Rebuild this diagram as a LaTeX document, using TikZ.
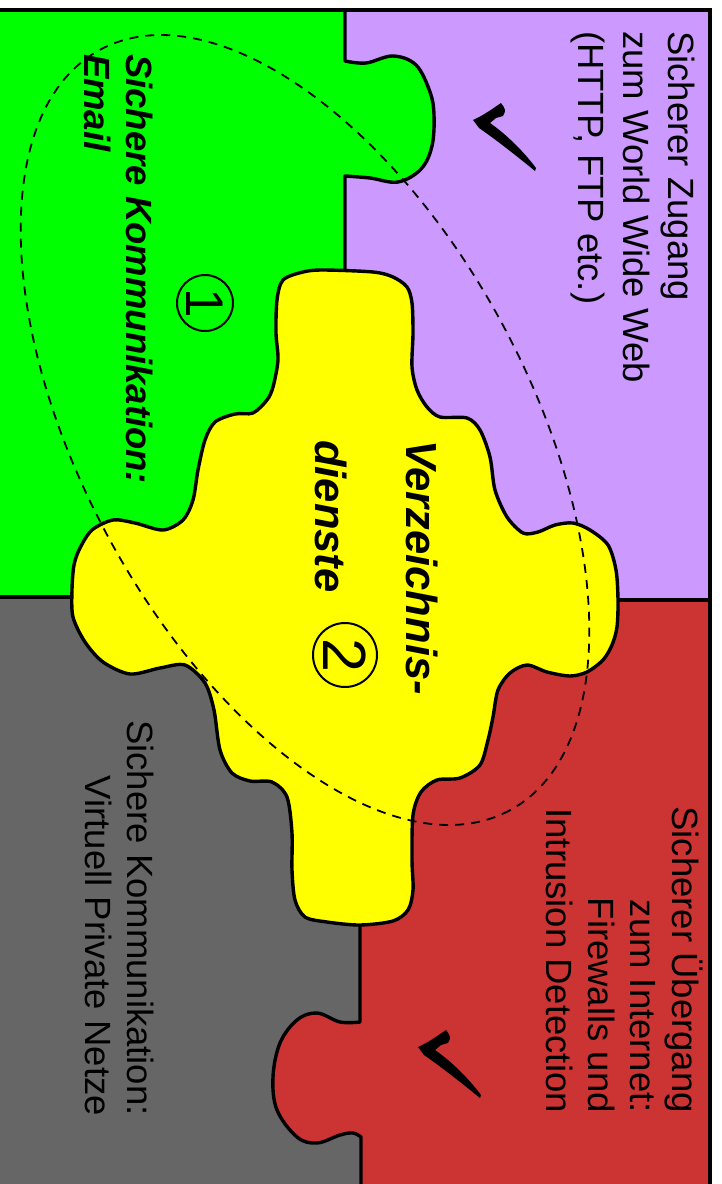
\documentclass[tikz,border=0pt]{standalone}
\usepackage{fontspec}
\setmainfont{Liberation Sans}
\usepackage{xcolor}

\definecolor{gruen}{RGB}{0,255,0}
\definecolor{lila}{RGB}{204,153,255}
\definecolor{gelb}{RGB}{255,255,0}
\definecolor{rot}{RGB}{204,51,51}
\definecolor{grau}{RGB}{102,102,102}

\tikzset{
  teil/.style={draw=black, line width=3.4pt, line join=round},
  schrift/.style={rotate=-90, inner sep=0pt, font=\fontsize{36.5}{42}\selectfont},
  fett/.style={rotate=-90, inner sep=0pt, font=\fontsize{36.5}{42}\selectfont\bfseries\itshape},
  nummer/.style={circle, draw, line width=2pt, inner sep=0pt, rotate=-90},
  haken/.pic={
    \fill (0,0) .. controls (7,-3) and (15,-8) .. (25,-15) -- (28,-17)
      .. controls (33,-10) .. (30,-4) -- (23,-2) -- (17,3)
      .. controls (30,12) and (48,28) .. (63,48) -- (62,51)
      .. controls (45,37) and (22,19) .. (6,8) -- cycle;
  }
}

\begin{document}
\begin{tikzpicture}[x=1pt, y=-1pt]
\useasboundingbox (0,0) rectangle (722,1184);
\clip (0,0) rectangle (722,1184);

\fill[gruen] (0,10) rectangle (345,597);
\fill[lila] (345,10) rectangle (710,600);
\fill[grau] (0,597) rectangle (360,1184);
\fill[rot] (360,600) rectangle (710,1184);

\fill[gruen] plot[smooth, tension=0.6] coordinates {(345,61) (366,63) (393,56) (416,65) (430,92) (434,115) (432,146) (421,169) (398,182) (370,178) (345,176)} -- cycle;
\fill[rot] plot[smooth, tension=0.6] coordinates {(360,1022) (340,1022) (317,1013) (297,1020) (280,1043) (273,1077) (277,1110) (297,1137) (317,1143) (340,1135) (353,1133) (361,1137)} -- cycle;

\draw[teil] (345,10) -- plot[smooth, tension=0.6] coordinates {(345,61) (366,63) (393,56) (416,65) (430,92) (434,115) (432,146) (421,169) (398,182) (370,178) (345,176)} -- (345,275);
\draw[teil] (360,920) -- plot[smooth, tension=0.6] coordinates {(360,1022) (340,1022) (317,1013) (297,1020) (280,1043) (273,1077) (277,1110) (297,1137) (317,1143) (340,1135) (353,1133) (361,1137)} -- (361,1184);
\draw[teil] (0,597) -- (80,597);
\draw[teil] (610,600) -- (710,600);

\draw[teil, fill=gelb] plot[smooth cycle, tension=0.5] coordinates {
  (303,272) (323,270) (373,272) (393,277) (407,287) (412,303) (413,333) (412,367)
  (417,390) (427,407) (440,417) (467,418) (480,430) (490,457) (495,490) (507,517)
  (523,533) (538,532) (555,525) (573,523) (590,530) (608,545) (616,570) (618,600)
  (617,627) (612,645) (603,660) (587,672) (570,676) (547,672) (527,665) (510,673)
  (498,690) (493,717) (488,740) (480,765) (460,778) (437,780) (421,792) (413,815)
  (412,860) (413,890) (408,910) (393,921) (360,925) (327,922) (305,917) (295,900)
  (292,870) (292,833) (287,797) (272,782) (250,781) (232,773) (220,750) (214,710)
  (205,683) (185,665) (160,668) (130,674) (103,662) (85,642) (73,617) (72,590)
  (74,565) (80,548) (92,530) (113,520) (135,523) (163,530) (183,520) (193,500)
  (198,470) (205,440) (215,422) (235,414) (253,413) (267,400) (273,387) (278,360)
  (276,333) (277,300) (283,280)};

\draw[line width=1.8pt, dash pattern=on 9pt off 7pt, rotate around={-61.7:(305,430)}] (305,430) ellipse [x radius=432, y radius=224];

\node[schrift, font=\fontsize{36.5}{45}\selectfont, align=left, anchor=north west] (www) at (695,31) {Sicherer Zugang\\zum World Wide Web\\(HTTP, FTP etc.)};
\node[schrift, align=right, anchor=north east] (firewall) at (703,1113) {Sicherer Übergang\\zum Internet:\\Firewalls und\\Intrusion Detection};
\node[schrift, align=right, anchor=north east] (vpn) at (154,1116) {Sichere Kommunikation:\\Virtuell Private Netze};
\node[fett, align=left, anchor=north west] (email) at (153,54) {Sichere Kommunikation:\\Email};
\node[fett, font=\fontsize{43.5}{91}\selectfont\bfseries\itshape, align=left, anchor=north west] (verz) at (438,440) {Verzeichnis-\\dienste};

\node[nummer, minimum size=56pt, font=\fontsize{53}{53}\selectfont] (eins) at (205,303) {1};
\node[nummer, minimum size=64pt, font=\fontsize{61}{61}\selectfont] (zwei) at (345,655) {2};

\pic at (473,120) {haken};
\pic at (418,1047) {haken};

\draw[line width=3.5pt] (0,10) -- (710,10) -- (710,1184);
\end{tikzpicture}
\end{document}
